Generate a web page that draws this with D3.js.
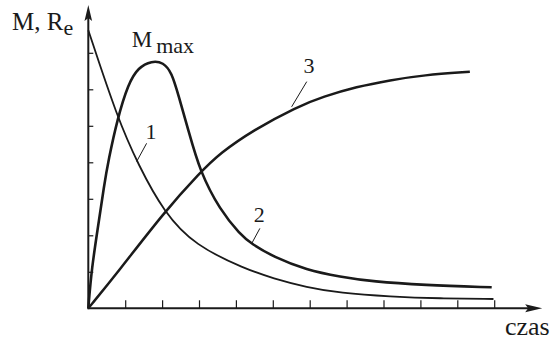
<!DOCTYPE html>
<html>
<head>
<meta charset="utf-8">
<script src="https://cdn.jsdelivr.net/npm/d3@7"></script>
<style>
  html, body { margin: 0; padding: 0; background: #fff; }
  svg { display: block; }
  text { font-family: "Liberation Serif", "Times New Roman", serif; fill: #1a1a1a; }
</style>
</head>
<body>
<svg id="chart" width="552" height="342"></svg>
<script>
// Time axis ticks and value axis ticks (arbitrary units)
const xTicks = [1, 2, 3, 4, 5, 6, 7, 8, 9, 10, 11];
const yTicks = [1, 2, 3, 4, 5, 6, 7];

// Curve 1: decreasing curve
const curve1 = [
  [0, 7.62], [0.79, 5.21], [1.355, 3.93], [2.05, 2.63], [2.89, 1.72],
  [4.25, 1.08], [5.01, 0.82], [5.92, 0.575], [6.82, 0.42], [8.18, 0.32],
  [9.53, 0.27], [10.98, 0.255]
];
// Curve 2: torque curve with maximum M_max
const curve2 = [
  [0, 0], [0.092, 1.10], [0.271, 2.28], [0.425, 3.35], [0.547, 4.06],
  [0.786, 5.18], [1.084, 6.16], [1.355, 6.60], [1.718, 6.78], [2.033, 6.74],
  [2.26, 6.46], [2.439, 5.85], [2.71, 4.885], [3.027, 3.742], [3.569, 2.693],
  [4.111, 2.03], [4.428, 1.76], [5.014, 1.414], [5.919, 1.049], [6.821, 0.866],
  [7.724, 0.729], [9.079, 0.638], [10.932, 0.575]
];
// Curve 3: rising, saturating curve
const curve3 = [
  [0, 0], [0.81, 1.0], [2.05, 2.63], [3.03, 3.72], [3.57, 4.25],
  [4.47, 4.88], [5.65, 5.52], [6.37, 5.80], [7.27, 6.07], [8.18, 6.25],
  [9.08, 6.39], [10.34, 6.48]
];

const seriesLabels = ["1", "2", "3"];
const yTitle = "M, R";
const yTitleSub = "e";
const xTitle = "czas";
const peakLabel = "M";
const peakLabelSub = "max";

// Layout (in axis units)
const axisEnds = { x: 12.3, y: 8.31 };
const labelLayout = [
  { text: [1.70, 4.64], from: [1.58, 4.52], to: [1.31, 4.02] },
  { text: [4.63, 2.37], from: [4.65, 2.19], to: [4.43, 1.78] },
  { text: [5.98, 6.44], from: [5.92, 6.21], to: [5.51, 5.52] }
];

const ink = "#1a1a1a";
const svg = d3.select("#chart");

const x = d3.scaleLinear().domain([0, 11]).range([88.3, 494.2]);
const y = d3.scaleLinear().domain([0, 7]).range([308.3, 52.8]);

// Axes with inward ticks
const gx = svg.append("g").attr("transform", `translate(0,${y(0)})`)
  .call(d3.axisBottom(x).tickValues(xTicks).tickSize(-8).tickFormat(""));
const gy = svg.append("g").attr("transform", `translate(${x(0)},0)`)
  .call(d3.axisLeft(y).tickValues(yTicks).tickSize(-5).tickFormat(""));
[gx, gy].forEach(g => {
  g.select(".domain").remove();
  g.selectAll(".tick line").attr("stroke", ink).attr("stroke-width", 1.2);
});

// Axis lines with arrowheads
const x0 = x(0), y0 = y(0);
const xEnd = x(axisEnds.x), yEnd = y(axisEnds.y);
svg.append("line").attr("x1", x0).attr("y1", y0).attr("x2", xEnd - 10).attr("y2", y0)
  .attr("stroke", ink).attr("stroke-width", 2);
svg.append("line").attr("x1", x0).attr("y1", y0 + 1).attr("x2", x0).attr("y2", yEnd + 10)
  .attr("stroke", ink).attr("stroke-width", 2);
svg.append("path")
  .attr("d", `M${xEnd},${y0} L${xEnd - 17},${y0 - 4} L${xEnd - 14},${y0} L${xEnd - 17},${y0 + 4} Z`)
  .attr("fill", ink);
svg.append("path")
  .attr("d", `M${x0},${yEnd} L${x0 - 3.8},${yEnd + 16} L${x0},${yEnd + 13} L${x0 + 3.8},${yEnd + 16} Z`)
  .attr("fill", ink);

// Curves, smoothed with a B-spline through the sampled values
const line = d3.line().x(d => x(d[0])).y(d => y(d[1])).curve(d3.curveBasis);
svg.append("path").datum(curve1).attr("d", line)
  .attr("fill", "none").attr("stroke", ink).attr("stroke-width", 1.8);
svg.append("path").datum(curve2).attr("d", line)
  .attr("fill", "none").attr("stroke", ink).attr("stroke-width", 2.6);
svg.append("path").datum(curve3).attr("d", line)
  .attr("fill", "none").attr("stroke", ink).attr("stroke-width", 2.5);

// Curve number labels with leader lines
labelLayout.forEach((l, i) => {
  svg.append("line")
    .attr("x1", x(l.from[0])).attr("y1", y(l.from[1]))
    .attr("x2", x(l.to[0])).attr("y2", y(l.to[1]))
    .attr("stroke", ink).attr("stroke-width", 1);
  svg.append("text")
    .attr("x", x(l.text[0])).attr("y", y(l.text[1]))
    .attr("text-anchor", "middle")
    .attr("font-size", 22)
    .text(seriesLabels[i]);
});

// Axis titles
const yt = svg.append("text").attr("x", 12).attr("y", 30).attr("font-size", 25);
yt.append("tspan").text(yTitle);
yt.append("tspan").attr("dy", 5).attr("font-size", 22).text(yTitleSub);

svg.append("text").attr("x", 505).attr("y", 335).attr("font-size", 26).text(xTitle);

// Peak annotation
const pt = svg.append("text").attr("x", 131.7).attr("y", 46.7).attr("font-size", 23);
pt.append("tspan").text(peakLabel);
pt.append("tspan").attr("dx", 4).attr("dy", 6.5).attr("font-size", 22).text(peakLabelSub);
</script>
</body>
</html>
